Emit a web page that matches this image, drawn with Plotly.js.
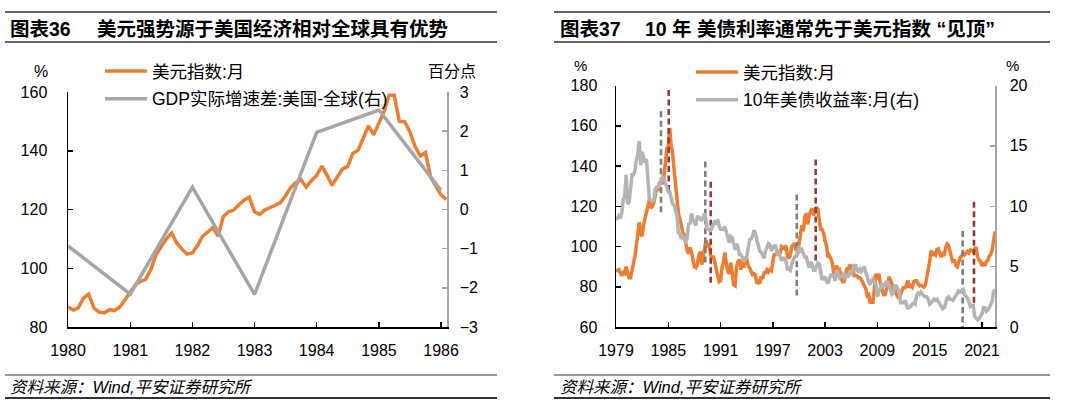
<!DOCTYPE html>
<html><head><meta charset="utf-8">
<script src="https://cdn.plot.ly/plotly-3.0.1.min.js"></script>
<style>html,body{margin:0;padding:0;background:#fff}#chart{width:1075px;height:408px}</style>
</head><body><div id="chart"></div>
<script>
// ---------- Left chart data (monthly from 1980-01) ----------
const leftStart = [1980, 1];
const dxyLeft = [
 86.8, 85.8, 86.5, 89.8, 91.2, 86.5, 85.1, 84.8, 85.9, 85.6, 86.8, 89.5,
 91.8, 94.4, 95.5, 96.2, 99.5, 104.6, 107.5, 110.0, 112.0, 108.6, 106.5, 104.8,
 105.2, 107.8, 110.8, 112.5, 113.8, 111.0, 117.5, 119.2, 119.8, 121.6, 123.2, 124.2,
 119.2, 118.3, 119.8, 120.6, 121.5, 122.3, 124.6, 127.4, 129.2, 130.1, 127.6, 129.8,
 131.6, 134.8, 131.8, 128.2, 131.0, 133.8, 134.6, 139.2, 140.2, 144.5, 148.5, 145.4,
 149.8, 153.5, 158.9, 158.9, 150.0, 149.9, 146.6, 141.5, 138.2, 139.4, 131.0, 128.0,
 125.0, 123.4
];
const gdpYears = ['1980', '1981', '1982', '1983', '1984', '1985', '1986'];
const gdpDiff = [-0.93, -2.16, 0.57, -2.17, 1.97, 2.54, 0.49];

// ---------- Right chart data (every 2 months from 1979-01) ----------
const rightStart = [1979, 1];
const dxyRight = [
 88.5, 88.0, 88.5, 86.5, 85.5, 87.0,
 86.5, 90.0, 86.5, 84.5, 84.5, 87.5,
 91.5, 95.0, 100.0, 107.5, 112.0, 106.5,
 105.2, 110.8, 113.8, 117.5, 119.8, 123.2,
 119.2, 119.8, 121.5, 124.6, 129.2, 127.6,
 131.6, 131.8, 131.0, 134.6, 140.2, 148.5,
 149.8, 158.9, 150.0, 146.6, 138.2, 131.0,
 125.0, 116.5, 114.0, 109.5, 107.0, 106.0,
 100.5, 98.0, 96.5, 99.5, 97.0, 92.0,
 90.0, 89.5, 91.0, 95.5, 97.5, 91.0,
 95.5, 98.5, 103.0, 99.5, 101.5, 96.5,
 93.5, 95.5, 93.0, 89.0, 85.5, 82.5,
 83.0, 89.5, 92.0, 97.0, 91.5, 87.5,
 86.5, 92.0, 87.5, 81.0, 80.5, 90.0,
 92.5, 93.5, 88.5, 93.0, 89.5, 93.0,
 94.0, 90.5, 89.5, 87.0, 86.0, 86.5,
 86.0, 81.5, 82.5, 81.5, 85.0, 84.0,
 87.0, 87.0, 88.5, 87.5, 88.5, 88.0,
 93.0, 96.5, 95.5, 97.5, 97.5, 96.5,
 100.0, 99.5, 99.0, 100.5, 95.5, 94.0,
 95.5, 100.0, 101.0, 101.5, 98.0, 100.5,
 101.0, 105.5, 110.5, 107.5, 114.5, 116.5,
 111.0, 115.5, 117.5, 119.0, 115.5, 117.5,
 119.5, 118.5, 114.0, 108.5, 108.5, 106.5,
 102.5, 100.5, 94.5, 95.5, 94.0, 91.5,
 86.5, 88.5, 90.5, 88.0, 88.5, 84.0,
 82.5, 82.5, 84.5, 89.5, 88.0, 91.0,
 89.5, 90.0, 85.5, 85.5, 85.5, 84.5,
 84.5, 83.5, 82.0, 80.5, 79.0, 75.5,
 76.0, 72.5, 72.8, 72.5, 78.5, 86.5,
 83.5, 86.5, 82.0, 79.0, 76.5, 75.5,
 77.5, 80.5, 85.0, 83.0, 81.5, 78.0,
 79.0, 76.5, 75.0, 74.5, 76.5, 77.5,
 80.0, 79.0, 80.5, 83.0, 79.5, 80.5,
 79.8, 82.5, 83.0, 83.0, 81.5, 80.5,
 80.8, 80.0, 79.8, 80.5, 84.5, 87.5,
 92.5, 98.0, 95.5, 96.5, 95.8, 98.5,
 98.8, 96.5, 94.8, 96.2, 95.4, 99.5,
 101.2, 100.5, 98.0, 94.3, 92.0, 93.5,
 90.5, 89.9, 93.0, 94.6, 95.0, 96.8,
 95.9, 96.7, 97.6, 96.8, 98.3, 98.0,
 97.5, 99.0, 99.6, 95.0, 93.2, 92.6,
 90.3, 92.0, 90.3, 92.6, 92.9, 95.4,
 95.9, 98.2, 103.0, 107.5
];
const ust10y = [
 8.9, 9.0, 9.2, 9.0, 9.4, 10.6,
 10.8, 12.6, 10.2, 10.3, 11.4, 12.6,
 12.6, 12.9, 13.8, 14.3, 15.4, 13.4,
 14.5, 13.9, 13.6, 13.9, 12.3, 10.6,
 10.5, 10.5, 10.4, 11.4, 11.6, 11.6,
 11.7, 12.0, 12.4, 12.3, 11.9, 11.4,
 11.2, 11.2, 10.7, 10.2, 10.1, 9.6,
 9.2, 7.8, 7.7, 7.3, 7.5, 7.3,
 7.1, 7.3, 8.6, 8.5, 9.4, 8.9,
 8.7, 8.4, 9.1, 9.1, 9.0, 8.8,
 9.1, 9.4, 8.9, 8.0, 8.2, 7.9,
 8.2, 8.6, 8.8, 8.5, 8.9, 8.4,
 8.1, 8.1, 8.1, 8.3, 7.7, 7.4,
 7.0, 7.5, 7.4, 6.8, 6.4, 6.9,
 6.6, 6.0, 6.0, 5.8, 5.4, 5.7,
 5.8, 6.5, 7.2, 7.3, 7.5, 8.0,
 7.8, 7.2, 6.6, 6.3, 6.2, 5.9,
 5.7, 6.3, 6.7, 6.9, 6.8, 6.3,
 6.6, 6.7, 6.7, 6.1, 6.2, 5.9,
 5.5, 5.7, 5.7, 5.5, 4.8, 4.8,
 4.7, 5.2, 5.5, 5.8, 5.9, 6.0,
 6.7, 6.3, 6.4, 6.1, 5.8, 5.8,
 5.2, 4.9, 5.4, 5.2, 4.7, 4.7,
 5.0, 5.3, 5.2, 4.7, 3.9, 4.1,
 4.1, 3.8, 3.6, 4.0, 4.3, 4.3,
 4.2, 3.8, 4.7, 4.5, 4.1, 4.2,
 4.2, 4.5, 4.1, 4.2, 4.2, 4.5,
 4.4, 4.7, 5.1, 5.1, 4.7, 4.6,
 4.8, 4.6, 4.8, 5.0, 4.5, 4.2,
 3.7, 3.5, 3.9, 4.0, 3.7, 3.5,
 2.5, 2.8, 3.3, 3.6, 3.4, 3.4,
 3.7, 3.7, 3.4, 3.0, 2.7, 2.8,
 3.4, 3.4, 3.2, 3.0, 2.0, 2.0,
 2.0, 2.2, 1.8, 1.5, 1.7, 1.7,
 1.9, 2.0, 1.9, 2.6, 2.8, 2.7,
 2.9, 2.7, 2.6, 2.5, 2.5, 2.3,
 1.9, 2.0, 2.2, 2.3, 2.2, 2.3,
 2.1, 1.9, 1.8, 1.5, 1.6, 2.1,
 2.4, 2.5, 2.3, 2.3, 2.2, 2.4,
 2.6, 2.8, 3.0, 2.9, 3.0, 3.1,
 2.7, 2.6, 2.4, 2.1, 1.7, 1.8,
 1.8, 0.9, 0.7, 0.6, 0.7, 0.9,
 1.1, 1.6, 1.6, 1.3, 1.4, 1.6,
 1.8, 2.1, 2.9, 3.1
];
// Peak markers (dashed lines), extents in 美元指数 units
const yieldPeakDates = ['1984-03-01', '1989-04-01', '1999-10-01', '2018-10-15'];
const yieldPeakLow  = [117, 92, 75.7, 57.5];
const yieldPeakHigh = [168, 143, 127, 108.6];
const dxyPeakDates = ['1985-01-20', '1989-11-15', '2001-12-01', '2020-02-01'];
const dxyPeakLow  = [127.6, 82, 93, 72];
const dxyPeakHigh = [179, 133, 144.4, 123];

// ---------- helpers ----------
function monthSeq(start, n, step) {
  const out = [];
  for (let i = 0; i < n; i++) {
    const m0 = (start[1] - 1) + i * step;
    const y = start[0] + Math.floor(m0 / 12);
    const m = (m0 % 12) + 1;
    out.push(y + '-' + String(m).padStart(2, '0') + '-01');
  }
  return out;
}
const W = 1075, H = 408;
const px = v => v / W, py = v => 1 - v / H;

const FONT = 'Liberation Sans, Arial, Noto Sans CJK SC, sans-serif';
const ORANGE = '#ED7D31', GRAY = '#A6A6A6', GRAY2 = '#B4B4B4';
const DGRAY = '#7F7F7F', DRED = '#A23536';

const traces = [];
traces.push({
  x: monthSeq(leftStart, dxyLeft.length, 1), y: dxyLeft, xaxis: 'x', yaxis: 'y',
  type: 'scatter', mode: 'lines', name: '美元指数:月', legend: 'legend', legendgroup: 'a',
  line: {color: ORANGE, width: 3.5}, hoverinfo: 'skip'
});
traces.push({
  x: gdpYears.map(y => y + '-01-01'), y: gdpDiff, xaxis: 'x', yaxis: 'y2',
  type: 'scatter', mode: 'lines', name: 'GDP实际增速差:美国-全球(右)', legend: 'legend', legendgroup: 'b',
  line: {color: GRAY, width: 3.5}, hoverinfo: 'skip'
});
const rDates = monthSeq(rightStart, dxyRight.length, 2);
traces.push({
  x: rDates, y: ust10y, xaxis: 'x2', yaxis: 'y4',
  type: 'scatter', mode: 'lines', name: '10年美债收益率:月(右)', legend: 'legend2', legendgroup: 'd', legendrank: 2,
  line: {color: GRAY2, width: 3.5}, hoverinfo: 'skip'
});
traces.push({
  x: rDates, y: dxyRight, xaxis: 'x2', yaxis: 'y3',
  type: 'scatter', mode: 'lines', name: '美元指数:月', legend: 'legend2', legendgroup: 'c', legendrank: 1,
  line: {color: ORANGE, width: 3.5}, hoverinfo: 'skip'
});
yieldPeakDates.forEach((d, i) => traces.push({
  x: [d, d], y: [yieldPeakLow[i], yieldPeakHigh[i]], xaxis: 'x2', yaxis: 'y3',
  type: 'scatter', mode: 'lines', showlegend: false, hoverinfo: 'skip',
  line: {color: DGRAY, width: 2.6, dash: '6px,3.5px'}
}));
dxyPeakDates.forEach((d, i) => traces.push({
  x: [d, d], y: [dxyPeakLow[i], dxyPeakHigh[i]], xaxis: 'x2', yaxis: 'y3',
  type: 'scatter', mode: 'lines', showlegend: false, hoverinfo: 'skip',
  line: {color: DRED, width: 2.6, dash: '6px,3.5px'}
}));

const tickF = {family: FONT, size: 16, color: '#000'};
function axBase(extra) {
  return Object.assign({
    showgrid: false, zeroline: false, showline: true, linecolor: '#000', linewidth: 1.5,
    ticks: 'inside', ticklen: 5, tickwidth: 1.5, tickcolor: '#000', tickfont: tickF, fixedrange: true
  }, extra);
}
const LYD = [py(327), py(92)];
const RYD = [py(327), py(85.5)];

const layout = {
  width: W, height: H, margin: {l: 0, r: 0, t: 0, b: 0},
  paper_bgcolor: '#fff', plot_bgcolor: 'rgba(0,0,0,0)',
  font: {family: FONT, color: '#000'},
  xaxis: axBase({domain: [px(68), px(447)], anchor: 'y', type: 'date',
    range: ['1980-01-01', '1986-02-05'], tick0: '1980-01-01', dtick: 'M12', tickformat: '%Y',
    ticklabelstandoff: 8}),
  yaxis: axBase({domain: LYD, anchor: 'x', range: [80, 160], dtick: 20, tick0: 80, ticklabelstandoff: 16}),
  yaxis2: axBase({domain: LYD, anchor: 'x', overlaying: 'y', side: 'right', range: [-3, 3], dtick: 1,
    linecolor: '#A6A6A6', tickcolor: '#A6A6A6', ticklabelstandoff: 8}),
  xaxis2: axBase({domain: [px(616), px(995)], anchor: 'y3', type: 'date',
    range: ['1979-01-01', '2022-07-01'], tick0: '1979-01-01', dtick: 'M72', tickformat: '%Y',
    ticklabelstandoff: 8}),
  yaxis3: axBase({domain: RYD, anchor: 'x2', range: [60, 180], dtick: 20, tick0: 60, ticklabelstandoff: 14}),
  yaxis4: axBase({domain: RYD, anchor: 'x2', overlaying: 'y3', side: 'right', range: [0, 20], dtick: 5,
    linecolor: '#A6A6A6', tickcolor: '#A6A6A6', ticklabelstandoff: 10}),
  legend: {x: px(100), y: py(53), xanchor: 'left', yanchor: 'top', bgcolor: 'rgba(0,0,0,0)',
    font: {family: FONT, size: 17.5, color: '#000'}, traceorder: 'grouped', tracegroupgap: 2, itemwidth: 42},
  legend2: {x: px(691), y: py(54), xanchor: 'left', yanchor: 'top', bgcolor: 'rgba(0,0,0,0)',
    font: {family: FONT, size: 17.5, color: '#000'}, traceorder: 'grouped', tracegroupgap: 2, itemwidth: 42},
  shapes: [
    [5, 497, 12, 1.5], [5, 497, 42, 1.5], [5, 497, 375, 1.2], [5, 497, 398, 2.2],
    [554, 1050, 12, 1.5], [554, 1050, 42, 1.5], [554, 1050, 375, 1.2], [554, 1050, 398, 2.2]
  ].map(s => ({type: 'line', xref: 'paper', yref: 'paper', x0: px(s[0]), x1: px(s[1]), y0: py(s[2]), y1: py(s[2]),
    line: {color: '#333', width: s[3]}})),
  annotations: [
    {text: '<b>图表36</b>', x: px(8), y: py(29), xanchor: 'left', font: {size: 19.5}},
    {text: '<b>美元强势源于美国经济相对全球具有优势</b>', x: px(95), y: py(29), xanchor: 'left', font: {size: 19.5}},
    {text: '<b>图表37</b>', x: px(558), y: py(29), xanchor: 'left', font: {size: 19.5}},
    {text: '<b>10 年 美债利率通常先于美元指数 “见顶”</b>', x: px(643), y: py(29), xanchor: 'left', font: {size: 19.5}},
    {text: '<i>资料来源：Wind,平安证券研究所</i>', x: px(8), y: py(387), xanchor: 'left', font: {size: 16.5}},
    {text: '<i>资料来源：Wind,平安证券研究所</i>', x: px(558), y: py(387), xanchor: 'left', font: {size: 16.5}},
    {text: '%', x: px(32), y: py(71), font: {size: 16}},
    {text: '百分点', x: px(452), y: py(71), font: {size: 16}},
    {text: '%', x: px(580), y: py(66), font: {size: 15}},
    {text: '%', x: px(1021), y: py(66), font: {size: 15}}
  ].map(a => Object.assign({xref: 'paper', yref: 'paper', showarrow: false, yanchor: 'middle'}, a,
    {font: Object.assign({family: FONT, color: '#000'}, a.font)}))
};

Plotly.newPlot('chart', traces, layout, {staticPlot: true, displayModeBar: false});
</script>
</body></html>
